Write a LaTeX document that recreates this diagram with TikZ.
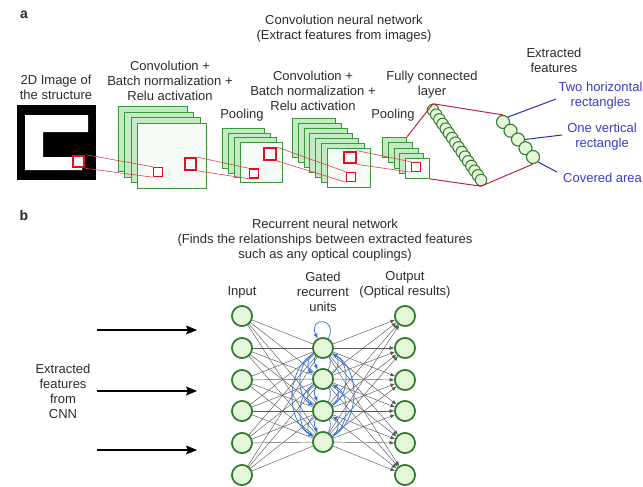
\documentclass[tikz,border=0pt]{standalone}
\usepackage{fontspec}
\setmainfont{Liberation Sans}
\usetikzlibrary{arrows.meta}
\definecolor{ink}{HTML}{2B2B2B}
\definecolor{gdark}{HTML}{3A963A}
\definecolor{gnode}{HTML}{2E7D2E}
\definecolor{gfill}{HTML}{C4EAC4}
\definecolor{gface}{HTML}{F7FCF7}
\definecolor{cfill}{HTML}{E6F6D8}
\definecolor{redc}{HTML}{E01020}
\definecolor{redl}{HTML}{DC4050}
\definecolor{redd}{HTML}{B8283C}
\definecolor{bluet}{HTML}{3A3AD0}
\definecolor{bluel}{HTML}{2A2AB8}
\definecolor{bluer}{HTML}{2F6FE0}
\begin{document}
\begin{tikzpicture}[x=1pt,y=1pt,
  font=\fontsize{13}{15}\selectfont,
  txt/.style={align=center, inner sep=0pt, text=ink},
  panel/.style={inner sep=0pt, text=ink, font=\fontsize{14}{16}\selectfont\bfseries},
  sheet/.style={draw=gdark, fill=gfill, line width=0.9pt, anchor=north west, inner sep=0pt},
  face/.style={sheet, fill=gface},
  redbig/.style={draw=redc, fill=white, line width=2.2pt, inner sep=0pt, minimum width=11.5pt, minimum height=11.5pt},
  redsmall/.style={draw=redc, fill=white, line width=1.4pt, inner sep=0pt, minimum width=9pt, minimum height=9pt},
  redlink/.style={draw=redl, line width=0.6pt},
  fclink/.style={draw=redd, line width=1pt},
  fcnode/.style={circle, draw=gnode, fill=cfill, line width=1pt, inner sep=0pt, minimum size=11.5pt},
  efnode/.style={circle, draw=gnode, fill=cfill, line width=1.1pt, inner sep=0pt, minimum size=13pt},
  bluelink/.style={draw=bluel, line width=1pt},
  bluelab/.style={txt, text=bluet},
  unit/.style={circle, draw=gnode, fill=cfill, line width=1.6pt, inner sep=0pt, minimum size=20pt},
  wire/.style={draw=black!65, line width=0.45pt},
  recur/.style={draw=bluer, line width=0.7pt, -{Latex[length=5pt,width=4pt]}},
  feed/.style={draw=black, line width=1.3pt, -{Stealth[length=11pt,width=9pt,inset=2pt]}}
]
\useasboundingbox (0,0) rectangle (643,-487);
\clip (0,0) rectangle (643,-487);

% ---------------- panel a: convolutional network ----------------
\node[panel] (pa) at (24,-15) {a};
\node[txt] (ttla) at (344,-28.5) {Convolution neural network\\(Extract features from images)};

% input structure image: white C made of two bars and one column
\node[txt] (imglab) at (56,-87.5) {2D Image of\\the structure};
\fill[black] (17,-105) rectangle (96,-180);
\fill[white] (25,-115) rectangle (88,-132)
             (25,-115) rectangle (43,-170)
             (25,-157) rectangle (82,-170);

% first convolution stack
\node[txt] (c1lab) at (170,-81) {Convolution +\\Batch normalization +\\Relu activation};
\foreach \i in {0,1,2}
  \node[sheet, minimum width=69pt, minimum height=65pt] (cA\i) at ({118+6.3*\i},{-106-5.7*\i}) {};
\node[face, minimum width=69pt, minimum height=65pt] (cAf) at (137,-123) {};

% first pooling stack
\node[txt] (p1lab) at (242,-115) {Pooling};
\foreach \i in {0,1,2}
  \node[sheet, minimum width=42pt, minimum height=40pt] (pA\i) at ({222+6*\i},{-128-4.7*\i}) {};
\node[face, minimum width=42pt, minimum height=40pt] (pAf) at (240,-142) {};

% second convolution stack
\node[txt] (c2lab) at (313,-91) {Convolution +\\Batch normalization +\\Relu activation};
\foreach \i in {0,...,5}
  \node[sheet, minimum width=43pt, minimum height=39pt] (cB\i) at ({292+5.8*\i},{-118-5*\i}) {};
\node[face, minimum width=43pt, minimum height=39pt] (cBf) at (327,-148) {};

% second pooling stack
\node[txt] (p2lab) at (393,-115) {Pooling};
\foreach \i in {0,...,3}
  \node[sheet, minimum width=24pt, minimum height=20pt] (pB\i) at ({382+5.75*\i},{-137-5.25*\i}) {};
\node[face, minimum width=24pt, minimum height=20pt] (pBf) at (405,-158) {};

% receptive-field boxes
\node[redbig]   (r0)    at (78.5,-161.5) {};
\node[redsmall] (c1in)  at (158,-172) {};
\node[redbig]   (c1out) at (190.5,-164) {};
\node[redsmall] (p1in)  at (254,-173.5) {};
\node[redbig]   (p1out) at (270,-154) {};
\node[redbig]   (c2out) at (350,-157.5) {};
\node[redsmall] (c2in)  at (351,-177) {};
\node[redsmall] (p2in)  at (416,-167) {};

% projections between boxes
\draw[redlink] (r0.north east) -- (c1in.north west) (r0.south east) -- (c1in.south west);
\draw[redlink] (c1out.north east) -- (p1in.north west) (c1out.south east) -- (p1in.south west);
\draw[redlink] (p1out.north east) -- (c2in.north west) (p1out.south east) -- (c2in.south west);
\draw[redlink] (c2out.north east) -- (p2in.north west) (c2out.south east) -- (p2in.south west);
% boxes again, over the projection lines
\node[redbig]   at (r0) {};
\node[redsmall] at (c1in) {};
\node[redbig]   at (c1out) {};
\node[redsmall] at (p1in) {};
\node[redbig]   at (p1out) {};
\node[redbig]   at (c2out) {};
\node[redsmall] at (c2in) {};
\node[redsmall] at (p2in) {};

% fully connected layer
\node[txt] (fclab) at (432,-85) {Fully connected\\layer};
\foreach \k in {1,...,16}
  \node[fcnode] (fc\k) at ({433+(\k-1)*48/15},{-110-(\k-1)*70/15}) {};

% extracted features
\node[txt] (eflab) at (554,-60.5) {Extracted\\features};
\foreach \k in {1,...,5}
  \node[efnode] (ef\k) at ({503+(\k-1)*7.5},{-122-(\k-1)*8.75}) {};

\draw[fclink] (pB0.north east) -- (fc1.north);
\draw[fclink] (pBf.south east) -- (fc16.south);
\draw[fclink] (fc1.north) -- (ef1.north);
\draw[fclink] (fc16.south) -- (ef5.south);

% feature labels
\node[bluelab] (t1) at (600.5,-95.5) {Two horizontal\\rectangles};
\node[bluelab] (t2) at (602,-137) {One vertical\\rectangle};
\node[bluelab, anchor=west] (t3) at (563,-178) {Covered area};
\coordinate (l1) at (556,-99);
\coordinate (l2) at (562,-135);
\coordinate (l3) at (557,-172);
\draw[bluelink] (ef1.north east) -- (l1);
\draw[bluelink] (ef3.east) -- (l2);
\draw[bluelink] (ef5.south east) -- (l3);

% ---------------- panel b: recurrent network ----------------
\node[panel] (pb) at (24,-215) {b};
\node[txt] (ttlb) at (325,-240) {Recurrent neural network\\(Finds the relationships between extracted features\\such as any optical couplings)};

\node[txt] (inlab)  at (242,-292) {Input};
\node[txt] (hidlab) at (323,-292) {Gated\\recurrent\\units};
\node[txt] (outlab) at (405,-284.5) {Output\\(Optical results)};

\foreach \i/\y in {1/316,2/348,3/380,4/411,5/443,6/475} {
  \node[unit] (in\i) at (242,-\y) {};
  \node[unit] (out\i) at (405,-\y) {};
}
\foreach \j/\y in {1/348,2/379,3/411,4/442}
  \node[unit] (h\j) at (323,-\y) {};

\foreach \i in {1,...,6}
  \foreach \j in {1,...,4}
    \draw[wire] (in\i) -- (h\j);
\foreach \j in {1,...,4}
  \foreach \k in {1,...,6}
    \draw[wire, -{Latex[length=4.5pt,width=4pt]}] (h\j) -- (out\k);

% recurrent connections among the gated units
\foreach \j in {1,...,4}
  \draw[recur] (h\j.60) .. controls +(10,22) and +(-10,22) .. (h\j.120);
\foreach \i in {1,...,4}
  \foreach \j in {1,...,4} {
    \ifnum\i<\j
      \draw[recur] (h\i) to[out=210,in=150] (h\j);
    \fi
    \ifnum\i>\j
      \draw[recur] (h\i) to[out=30,in=-30] (h\j);
    \fi
  }

% units again, on top of the wiring
\foreach \j in {1,...,4}
  \node[unit] at (h\j) {};
\foreach \i in {1,...,6} {
  \node[unit] at (in\i) {};
  \node[unit] at (out\i) {};
}

% features coming from the CNN
\node[txt] (cnnsrc) at (63,-391) {Extracted\\features\\from\\CNN};
\coordinate (fs1) at (97,-330);  \coordinate (fe1) at (197,-330);
\coordinate (fs2) at (97,-391);  \coordinate (fe2) at (197,-391);
\coordinate (fs3) at (97,-450);  \coordinate (fe3) at (197,-450);
\draw[feed] (fs1) -- (fe1);
\draw[feed] (fs2) -- (fe2);
\draw[feed] (fs3) -- (fe3);
\end{tikzpicture}
\end{document}
